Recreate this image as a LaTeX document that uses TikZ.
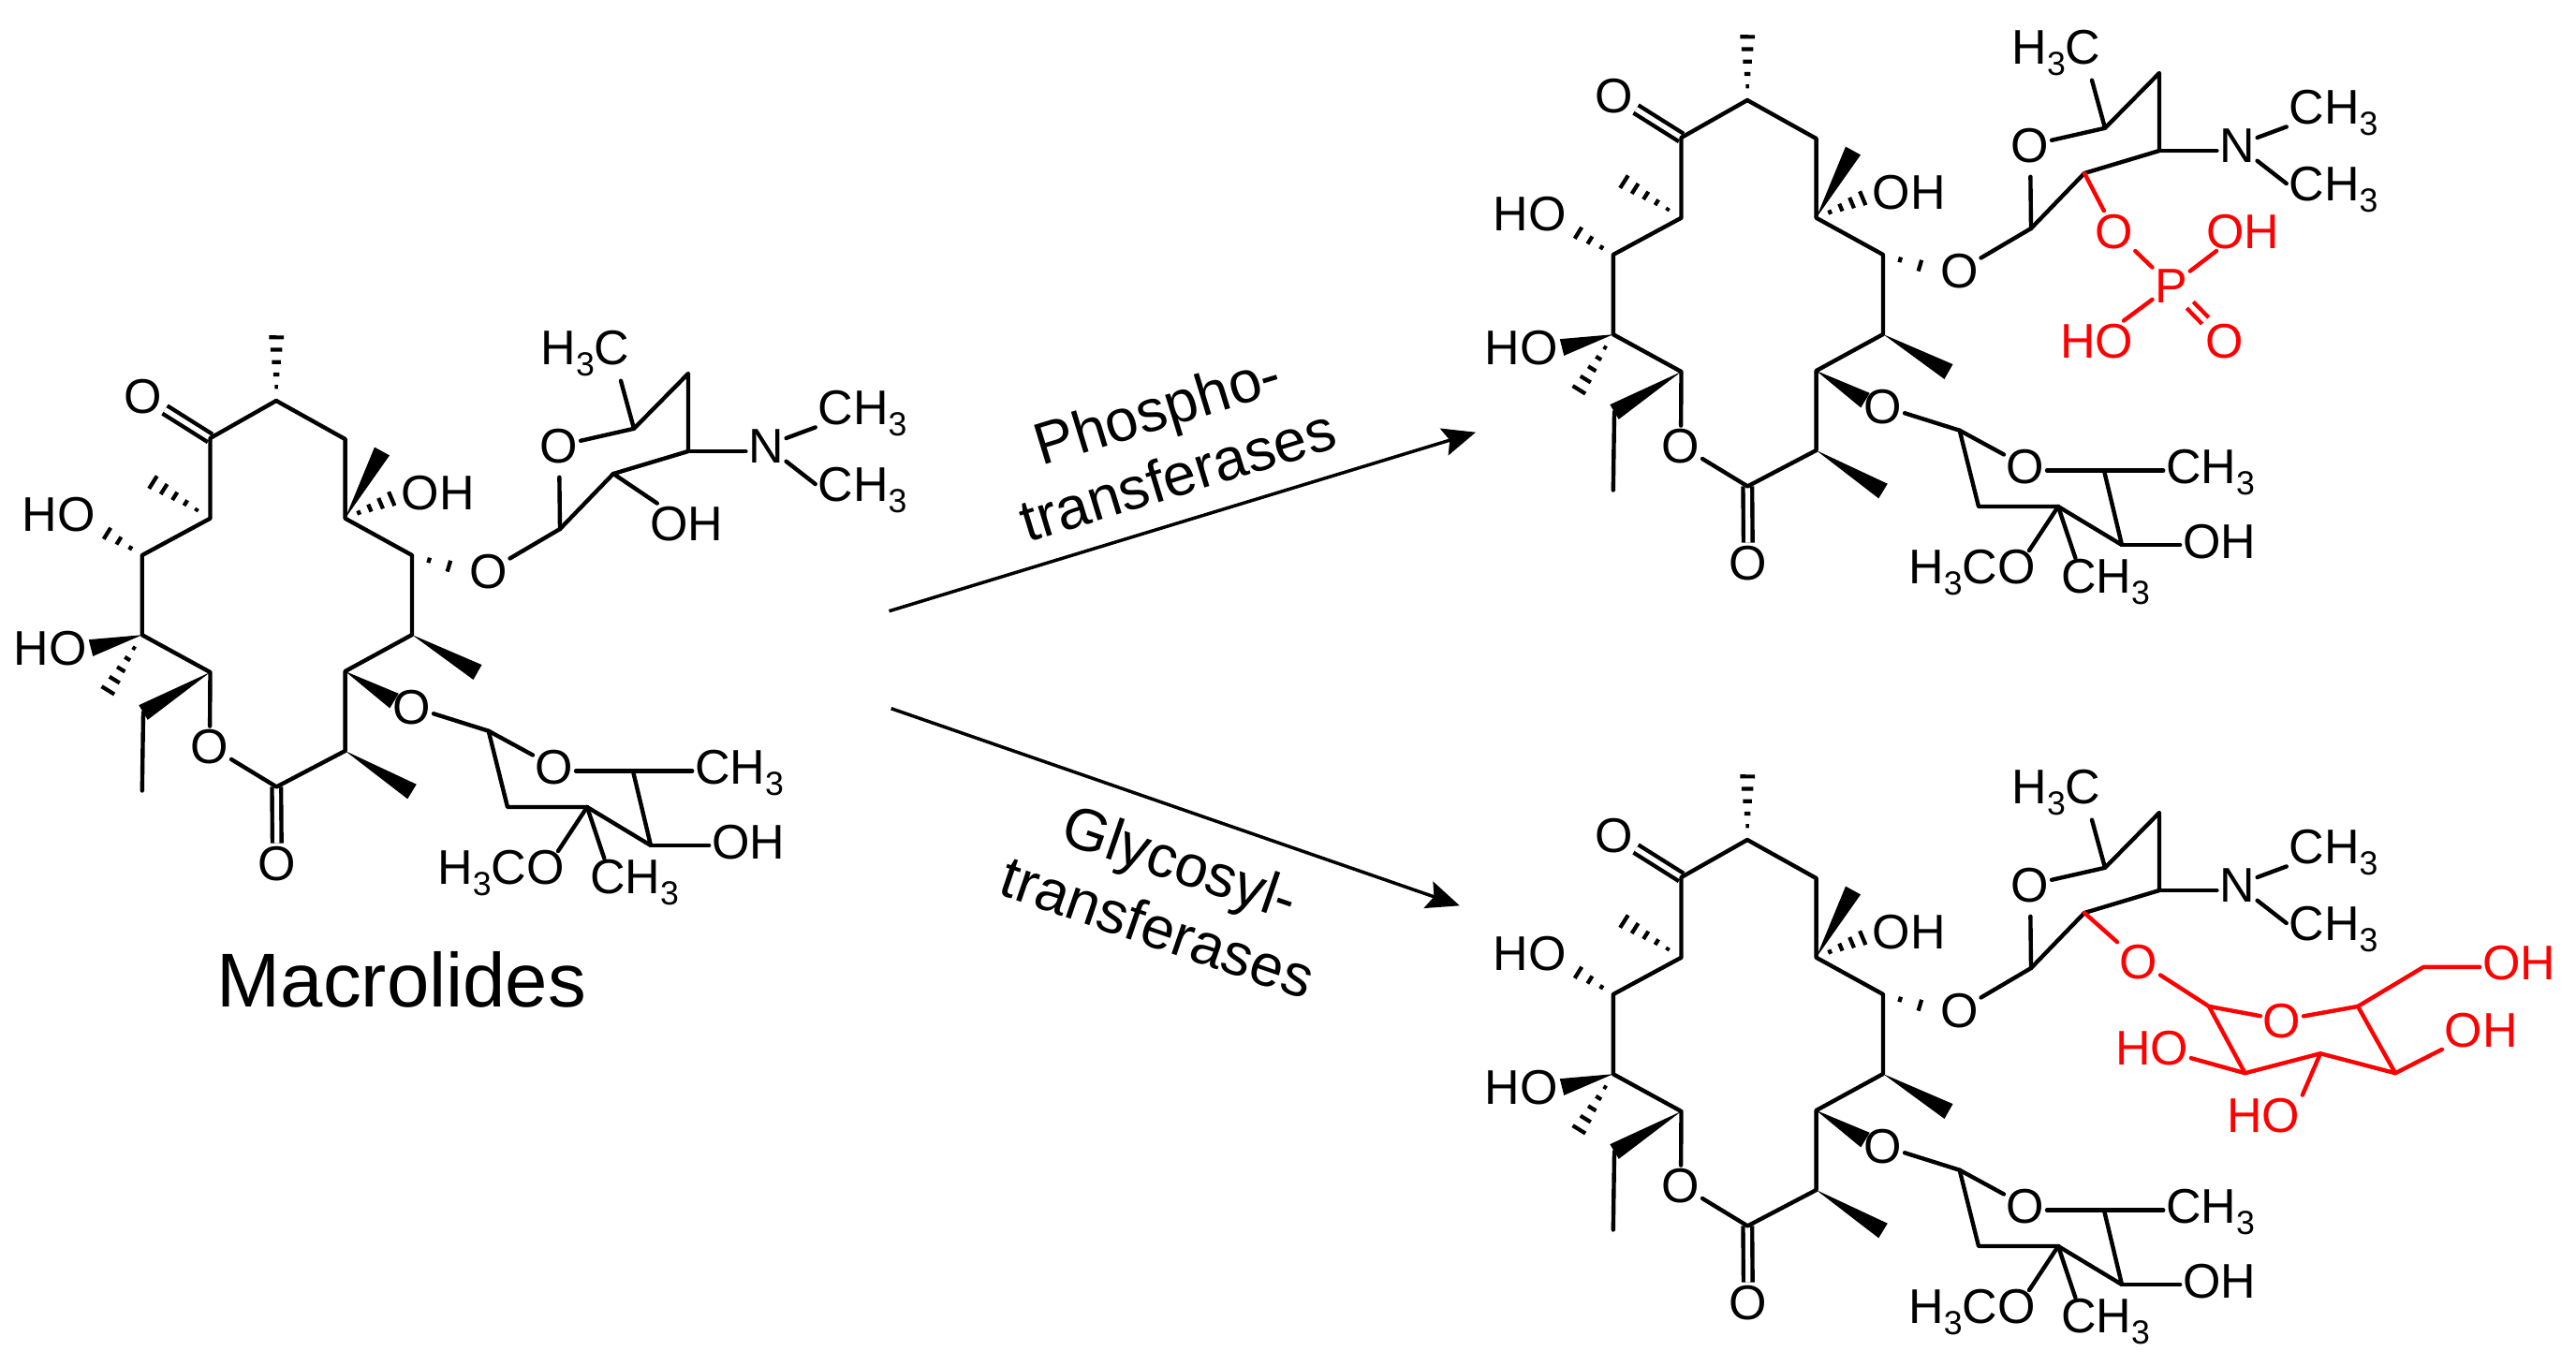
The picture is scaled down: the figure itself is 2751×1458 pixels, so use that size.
\documentclass[tikz,border=0pt]{standalone}
\usepackage{fontspec}
\setmainfont{Liberation Sans}
\usetikzlibrary{calc,arrows.meta}

\newcommand{\lowthree}{\raisebox{-6.7pt}{\fontsize{20.3}{21}\selectfont 3}}

\tikzset{
    bond/.style={line width=2.5pt,line cap=round,line join=round},
    dbond/.style={bond,double,double distance=3pt,line cap=butt},
    hashline/.style={line width=2.4pt},
    atom/.style={font=\fontsize{29.6}{31}\selectfont,inner sep=1.4pt,text height=21.2pt,text depth=0pt},
    enzyme/.style={font=\fontsize{36}{42}\selectfont,align=center},
    title/.style={font=\fontsize{46.4}{50}\selectfont,text height=33.4pt,text depth=0pt,inner sep=0pt},
    reaction/.style={line width=2pt,-{Stealth[length=20pt,width=17pt,inset=3.5pt]}}
}

\newcommand{\wedgebond}[2]{\fill ($(#2)!5.2pt!90:(#1)$) -- (#1) -- ($(#2)!5.2pt!-90:(#1)$) -- cycle;}
\newcommand{\hashbond}[3]{\foreach \p in {#3}
    \draw[hashline] ($(#1)!\p!(#2)!\p*5.4pt!90:(#2)$) -- ($(#1)!\p!(#2)!\p*5.4pt!-90:(#2)$);}

\newcommand{\macrolide}{
    \foreach \n/\x/\y in {r1/295/428,r2/224.5/468,r3/224.5/553.7,r4/151.8/593,r5/151.8/678.2,r6/224.5/718,
        r7/295.3/840.4,r8/368.6/802,r9/368.6/717,r10/440/678,r11/440/593,r12/368.6/553.7,r13/368.6/469,
        me1/295.3/345.5,me3/151.8/507.8,hs4/102/562,wd5/97/692,me5/108.4/748.6,et6/153/761,et7/151.8/844.5,
        me10/510/718,me8/440/845.5,wd9/421/748.6,me12/408/482,hs12/427/529,hs11/500.6/611,
        s1/598/565,s2/677/457.8,s3/735/399,s4/735/482,s5/655/506,sm/663/406.7,
        t1/521.7/780.7,t2/676/823.6,t3/695/903,t4/627/862,t5/542/862,tome/596/909,tme/645.4/917}
        \coordinate (\n) at (\x,\y);
    \foreach \n/\x/\y/\l in {Oket/153/423/O,HOa/62.5/549/HO,HOb/53.5/692/HO,OHc/467.7/526/OH,Ogly/521.5/610/O,
        Orng/224/797/O,Ocar/296/922/O,Os/597/476/O,Ome/625/371/H\lowthree C,N/818/476/N,
        CHu/921/435/CH\lowthree,CHd/921/517/CH\lowthree,Oi/440/755/O,Ot/592/819/O,
        CHt/789.5/819/CH\lowthree,OHt/799/899/OH,MeO/535/926/H\lowthree CO,CHw/677.5/936/CH\lowthree}
        \node[atom] (\n) at (\x,\y) {\l};
    \draw[dbond] (r2) -- (Oket);
    \draw[dbond] (r7) -- (Ocar);
    \draw[bond] (r1) -- (r2) -- (r3) -- (r4) -- (r5) -- (r6) -- (Orng);
    \draw[bond] (Orng) -- (r7) -- (r8) -- (r9) -- (r10) -- (r11) -- (r12) -- (r13) -- (r1);
    \draw[bond] (et6) -- (et7);
    \hashbond{r1}{me1}{.18,.34,...,.98}
    \hashbond{r3}{me3}{.2,.36,...,1}
    \hashbond{r4}{hs4}{.25,.5,.75,1}
    \hashbond{r5}{me5}{.2,.36,...,1}
    \hashbond{r12}{hs12}{.25,.45,.65,.85,1}
    \hashbond{r11}{hs11}{.3,.65,1}
    \wedgebond{r5}{wd5}
    \wedgebond{r6}{et6}
    \wedgebond{r10}{me10}
    \wedgebond{r8}{me8}
    \wedgebond{r9}{wd9}
    \wedgebond{r12}{me12}
    % upper sugar
    \draw[bond] (Ogly) -- (s1) -- (s5) -- (s4) -- (s3) -- (s2) -- (Os);
    \draw[bond,shorten >=7pt] (s1) -- (Os);
    \draw[bond] (s2) -- (sm);
    \draw[bond] (s4) -- (s4 -| N.west);
    \draw[bond] (N) -- (CHu.south west);
    \draw[bond] (N) -- (CHd.west);
    % lower sugar
    \draw[bond] (Oi) -- (t1) -- (Ot);
    \draw[bond] (t1) -- (t5) -- (t4) -- (t3) -- (t2);
    \draw[bond] (t2 -| Ot.east) -- (t2) -- (t2 -| CHt.west);
    \draw[bond] (t3) -- (t3 -| OHt.west);
    \draw[bond] (t4) -- (tome);
    \draw[bond] (t4) -- (tme);
}

\begin{document}
\begin{tikzpicture}[x=0.02cm,y=-0.02cm]
    \useasboundingbox (0,0) rectangle (2751,1458);

    \begin{scope}[name prefix=m-]
        \macrolide
        \node[atom] (OHs) at (733.5,559) {OH};
        \draw[bond] (s5) -- (OHs);
    \end{scope}
    \node[title] (name) at (429,1045.7) {Macrolides};

    \begin{scope}[shift={(1571,-321)},name prefix=p-]
        \macrolide
    \end{scope}
    \begin{scope}[shift={(1571,469)},name prefix=g-]
        \macrolide
    \end{scope}

    % reaction arrows
    \coordinate (up1) at (949.5,652.7);
    \coordinate (up2) at (1576,461.7);
    \coordinate (dn1) at (951.7,756.7);
    \coordinate (dn2) at (1558.8,967.3);
    \draw[reaction] (up1) -- (up2);
    \draw[reaction] (dn1) -- (dn2);
    \node[enzyme,rotate=17] (phos) at (1246.6,471.7) {Phospho-\\transferases};
    \node[enzyme,rotate=-19] (glyc) at (1248.8,955) {Glycosyl-\\transferases};

    % phosphate
    \begin{scope}[red,every node/.append style={text=red}]
        \node[atom] (pO) at (2258,246.6) {O};
        \node[atom] (pP) at (2318.6,305) {P};
        \node[atom] (pOH) at (2395,246.6) {OH};
        \node[atom] (pHO) at (2239,364) {HO};
        \node[atom] (pOd) at (2376,364) {O};
        \draw[bond] (p-s5) -- (pO);
        \draw[bond] (pO) -- (pP);
        \draw[bond] (pP) -- (pOH);
        \draw[bond] (pP) -- (pHO);
        \draw[dbond,double=white] (pP) -- (pOd);
    \end{scope}

    % glucose
    \begin{scope}[red,every node/.append style={text=red}]
        \foreach \n/\x/\y in {ga/2359/1074.9,gb/2518/1074.9,gc/2558/1146.2,gd/2478/1125.2,ge/2397.5/1146.2,gf/2588/1032.9}
            \coordinate (\n) at (\x,\y);
        \node[atom] (gO) at (2284,1026.6) {O};
        \node[atom] (gOr) at (2436.9,1089.5) {O};
        \node[atom] (gOH1) at (2690,1027.5) {OH};
        \node[atom] (gOH2) at (2649.7,1099.6) {OH};
        \node[atom] (gHO1) at (2298,1118.5) {HO};
        \node[atom] (gHO2) at (2417,1191) {HO};
        \draw[bond] (g-s5) -- (gO);
        \draw[bond] (gO) -- (ga) -- (gOr);
        \draw[bond] (gOr) -- (gb) -- (gf) -- (gf -| gOH1.west);
        \draw[bond] (ga) -- (ge) -- (gd) -- (gc) -- (gb);
        \draw[bond] (gc) -- (gOH2);
        \draw[bond] (ge) -- (gHO1);
        \draw[bond] (gd) -- (gHO2.north east);
    \end{scope}
\end{tikzpicture}
\end{document}
